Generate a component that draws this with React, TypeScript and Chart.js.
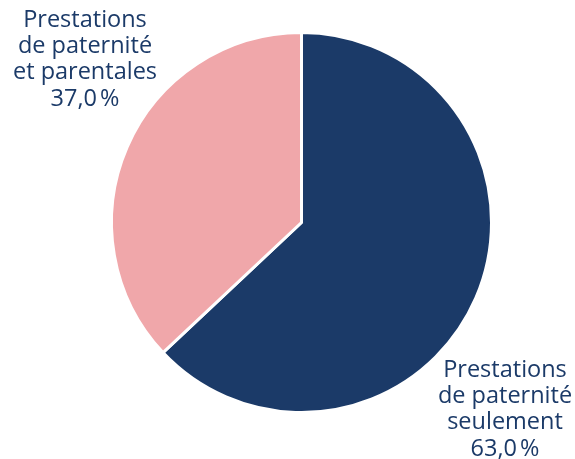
import React, { useEffect, useRef } from "react";
import { Chart, registerables } from "chart.js";

Chart.register(...registerables);

const categories = ["Prestations de paternité seulement", "Prestations de paternité et parentales"];
const values = [63.0, 37.0];
const colors = ["#1b3a68", "#f0a7aa"];
const labelLines = [
  ["Prestations", "de paternité", "seulement", "63,0\u202F%"],
  ["Prestations", "de paternité", "et parentales", "37,0\u202F%"],
];

const labelPlugin = {
  id: "sliceLabels",
  afterDraw(chart: any) {
    const ctx = chart.ctx;
    ctx.save();
    ctx.fillStyle = "#1b3a68";
    ctx.font = "400 23.5px 'Open Sans', 'Noto Sans', sans-serif";
    ctx.textAlign = "center";
    ctx.textBaseline = "middle";
    const anchors = [
      { x: 505, y: 370 },
      { x: 85, y: 20 },
    ];
    const lh = 26.3;
    labelLines.forEach((lines, i) => {
      lines.forEach((t, j) => {
        ctx.fillText(t, anchors[i].x, anchors[i].y + j * lh);
      });
    });
    ctx.restore();
  },
};

export default function App() {
  const ref = useRef<HTMLCanvasElement>(null);
  useEffect(() => {
    document.body.style.margin = "0";
    const chart = new Chart(ref.current!, {
      type: "pie",
      data: {
        labels: categories,
        datasets: [
          {
            data: values,
            backgroundColor: colors,
            borderColor: "#ffffff",
            borderWidth: 3,
          },
        ],
      },
      options: {
        responsive: false,
        animation: false,
        layout: { padding: { left: 110, top: 31, right: 82, bottom: 45 } },
        plugins: { legend: { display: false }, tooltip: { enabled: false } },
      },
      plugins: [labelPlugin],
    });
    return () => chart.destroy();
  }, []);
  return (
    <div style={{ width: 575, height: 459 }}>
      <canvas ref={ref} width={575} height={459} style={{ display: "block" }} />
    </div>
  );
}
